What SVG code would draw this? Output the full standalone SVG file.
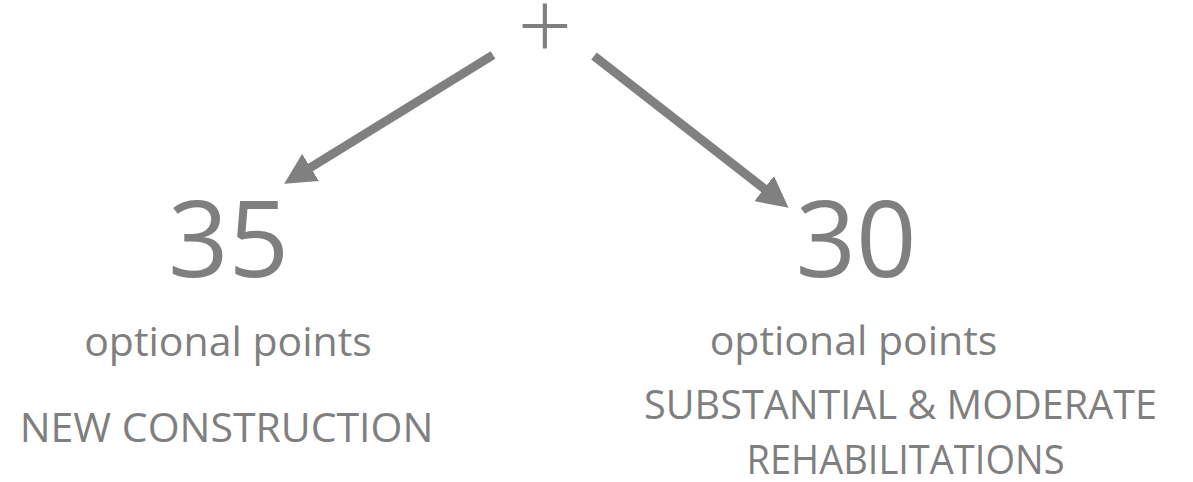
<svg xmlns="http://www.w3.org/2000/svg" width="1193" height="482" viewBox="0 0 1193 482">
  <style>
    text { font-family: "Open Sans", "Liberation Sans", sans-serif; fill: #7f7f7f; text-anchor: middle; }
    .big { font-size: 106px; }
    .lbl { font-size: 41px; }
    .plus { font-size: 96px; font-weight: 300; }
    .conn { stroke: #808080; stroke-width: 9; fill: none; }
  </style>
  <defs>
    <marker id="head" viewBox="0 0 31 32" markerUnits="userSpaceOnUse" markerWidth="31" markerHeight="32" refX="1" refY="16" orient="auto">
      <path d="M0,0 L31,16 L0,32 Z" fill="#808080"/>
    </marker>
  </defs>
  <rect width="1193" height="482" fill="#ffffff"/>
  <g id="connectors">
    <line class="conn" x1="493" y1="55" x2="309.7" y2="168" marker-end="url(#head)"/>
    <line class="conn" x1="594" y1="56" x2="764.9" y2="189.2" marker-end="url(#head)"/>
  </g>
  <g id="node-plus">
    <text class="plus" x="545" y="60">+</text>
  </g>
  <g id="node-new">
    <text class="big" x="228.5" y="277">35</text>
    <text class="lbl" x="228" y="356">optional points</text>
    <text class="lbl" x="226.5" y="441.5">NEW CONSTRUCTION</text>
  </g>
  <g id="node-rehab">
    <text class="big" x="856" y="277">30</text>
    <text class="lbl" x="853.5" y="355">optional points</text>
    <text class="lbl" x="900.5" y="418.5" textLength="513" lengthAdjust="spacingAndGlyphs">SUBSTANTIAL &amp; MODERATE</text>
    <text class="lbl" x="905.5" y="474" textLength="318" lengthAdjust="spacingAndGlyphs">REHABILITATIONS</text>
  </g>
</svg>
